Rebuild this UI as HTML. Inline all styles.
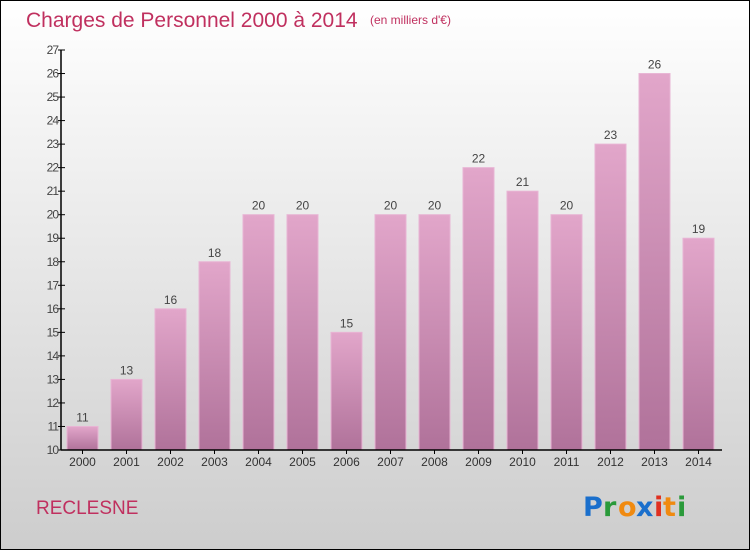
<!DOCTYPE html>
<html><head><meta charset="utf-8"><style>
html,body{margin:0;padding:0}
body{width:750px;height:550px;overflow:hidden;font-family:"Liberation Sans",sans-serif}
</style></head><body>
<svg width="750" height="550" xmlns="http://www.w3.org/2000/svg">
<defs>
<linearGradient id="bg" x1="0" y1="0" x2="0" y2="1"><stop offset="0" stop-color="#ffffff"/><stop offset="1" stop-color="#cdcdcd"/></linearGradient>
<linearGradient id="bar" x1="0" y1="0" x2="0" y2="1"><stop offset="0" stop-color="#e2a6ca"/><stop offset="1" stop-color="#b0729a"/></linearGradient>
</defs>
<rect x="0.5" y="0.5" width="749" height="549" fill="url(#bg)" stroke="#000"/>
<text x="26" y="27" font-size="21" fill="#c0305f">Charges de Personnel 2000 à 2014</text>
<text x="370" y="24" font-size="12" fill="#c0305f">(en milliers d'€)</text>
<g id="plot"></g>
<text x="36" y="514" font-size="19" fill="#c0305f">RECLESNE</text>
<g font-size="27" font-weight="bold" font-family="'DejaVu Sans',sans-serif">
<text x="583" y="516" fill="#1a6fcc">P</text><text x="603" y="516" fill="#2a9a3a">r</text><text x="618" y="516" fill="#f08a10">o</text><text x="636" y="516" fill="#1a6fcc">x</text><text x="654" y="516" fill="#e03020">i</text><text x="663" y="516" fill="#f08a10">t</text><text x="677" y="516" fill="#2a9a3a">i</text>
</g>
</svg>
<script>
const categories=["2000","2001","2002","2003","2004","2005","2006","2007","2008","2009","2010","2011","2012","2013","2014"];
const values=[11,13,16,18,20,20,15,20,20,22,21,20,23,26,19];
const yTicks=[10,11,12,13,14,15,16,17,18,19,20,21,22,23,24,25,26,27];
const NS="http://www.w3.org/2000/svg";
const g=document.getElementById('plot');
const x0=61,x1=722,yBase=450,yTop=50,yMin=10,yMax=27;
const y=v=>yBase-(v-yMin)/(yMax-yMin)*(yBase-yTop);
const step=44,bw=31,xs=i=>67+i*step;
function mk(t,a){const e=document.createElementNS(NS,t);for(const k in a)e.setAttribute(k,a[k]);g.appendChild(e);return e;}
values.forEach((v,i)=>{
 const r=mk('rect',{x:xs(i),y:y(v),width:bw,height:yBase-y(v),fill:'url(#bar)',stroke:'#e8b4d4','stroke-width':1});
 
 
 const t=mk('text',{x:xs(i)+bw/2,y:y(v)-5,'font-size':12,'text-anchor':'middle',fill:'#444'});t.textContent=v;
 
 
 const c=mk('text',{x:xs(i)+bw/2,y:466,'font-size':12,'text-anchor':'middle',fill:'#333'});c.textContent=categories[i];
 
 
 const tk=mk('line',{x1:xs(i)+bw/2,x2:xs(i)+bw/2,y1:yBase,y2:yBase+4,stroke:'#000'});
 
 
});
yTicks.forEach(v=>{
 const l=mk('line',{x1:x0-3,x2:x0+4,y1:y(v),y2:y(v),stroke:'#000'});
 
 
 const t=mk('text',{x:x0-3,y:y(v)+4,'font-size':12,'text-anchor':'end',fill:'#444','letter-spacing':'-1'});t.textContent=v;
 
 
});
const ya=mk('line',{x1:x0,x2:x0,y1:yTop,y2:yBase,stroke:'#000','stroke-width':1.5});


const xa=mk('line',{x1:x0,x2:x1,y1:yBase,y2:yBase,stroke:'#000','stroke-width':1.5});


</script>
</body></html>
